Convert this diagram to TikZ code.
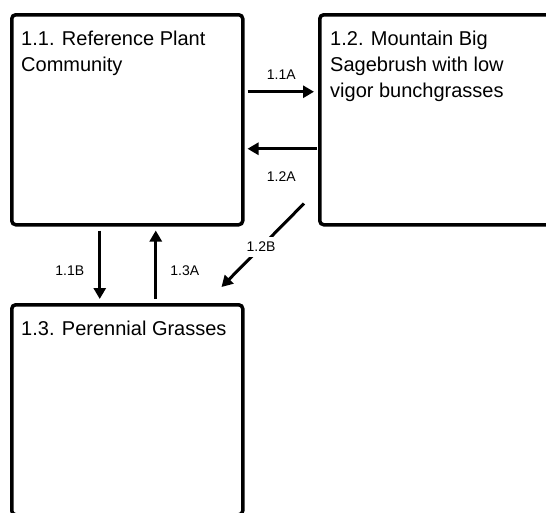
\documentclass[tikz,border=0pt]{standalone}
\usepackage{fontspec}
\setmainfont{Liberation Sans}
\usetikzlibrary{arrows.meta}
\begin{document}
\begin{tikzpicture}[x=1pt,y=-1pt,
  statebox/.style={draw=black, line width=3.5pt, rounded corners=4pt, minimum width=231pt, minimum height=210pt, inner sep=0pt, anchor=north west},
  title/.style={anchor=base west, inner sep=0pt, align=left, font=\fontsize{20}{26}\selectfont},
  arr/.style={line width=3pt, -{Triangle[length=11pt,width=12pt]}},
  lab/.style={inner sep=0pt, font=\fontsize{14}{16}\selectfont}]
\useasboundingbox (0,0) rectangle (546,512);
\clip (0,0) rectangle (546,512);
\node[statebox] (b11) at (10,13) {};
\node[statebox] (b12) at (318,13) {};
\node[statebox] (b13) at (10,303) {};
\node[title] (t11) at ([shift={(11,58)}]b11.north west) {1.1. Reference Plant\\Community};
\node[title] (t12) at ([shift={(12,84)}]b12.north west) {1.2. Mountain Big\\Sagebrush with low\\vigor bunchgrasses};
\node[title] (t13) at ([shift={(11,32)}]b13.north west) {1.3. Perennial Grasses};
% 1.1A
\draw[arr, shorten <=3pt, shorten >=4pt] ([yshift=28pt]b11.east) -- ([yshift=28pt]b12.west)
  node[lab, midway, yshift=17pt] (l11a) {1.1A};
% 1.2A
\draw[arr, shorten <=1pt, shorten >=3pt] ([yshift=-29pt]b12.west) -- ([yshift=-29pt]b11.east)
  node[lab, midway, yshift=-28pt] (l12a) {1.2A};
% 1.1B
\draw[arr, shorten <=4pt, shorten >=4pt] ([xshift=-27.5pt]b11.south) -- ([xshift=-27.5pt]b13.north)
  node[lab, midway, xshift=-30pt, yshift=-6pt] (l11b) {1.1B};
% 1.3A
\draw[arr, shorten <=4pt, shorten >=4pt] ([xshift=28.5pt]b13.north) -- ([xshift=28.5pt]b11.south)
  node[lab, midway, xshift=29pt, yshift=-6pt] (l13a) {1.3A};
% 1.2B
\draw[arr] ([shift={(-14,-23)}]b12.south west) -- ([shift={(-23,-16)}]b13.north east)
  node[lab, pos=0.52, fill=white, inner sep=5pt] (l12b) {1.2B};
\end{tikzpicture}
\end{document}
